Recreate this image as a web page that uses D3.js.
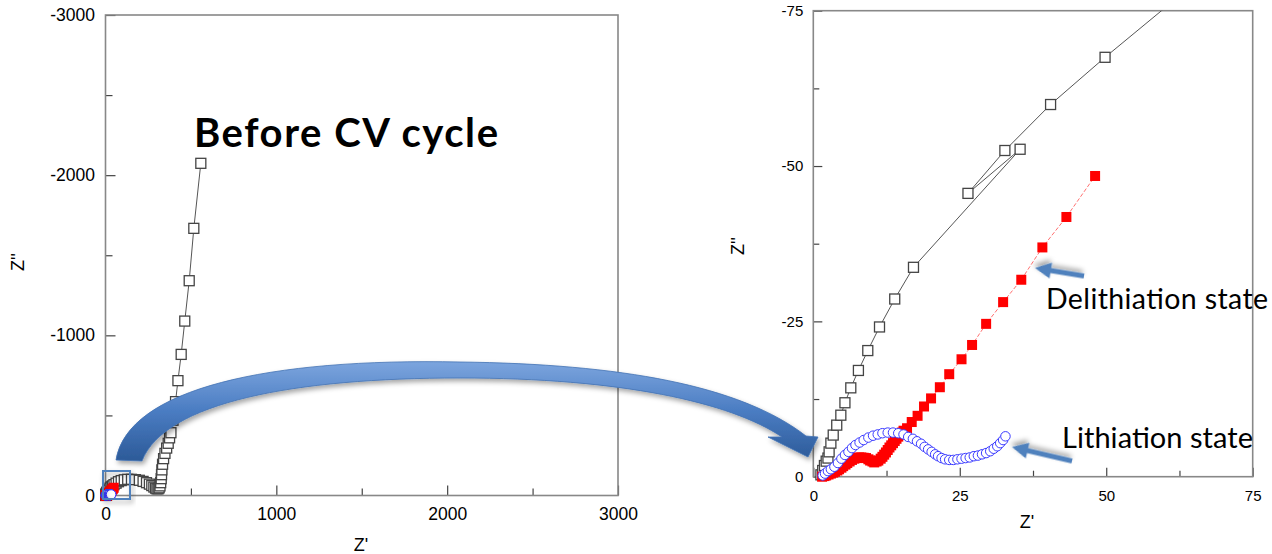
<!DOCTYPE html>
<html><head><meta charset="utf-8">
<script src="https://cdn.jsdelivr.net/npm/d3@7"></script>
<style>html,body{margin:0;padding:0;background:#fff;overflow:hidden}</style>
</head><body>
<svg id="c" width="1272" height="554"></svg>
<script>
// ---------- DATA (Z' in ohm, Z'' in ohm; Z'' negative) ----------
const blackZre = [1.3,1.6,1.9,2.2,2.5,2.7,3.0,3.4,4.0,4.7,5.4,6.4,7.7,9.3,11.3,13.9,17.1,35.3,26.4,32.7,40.5,49.8,62,76,92,110,130,152,175,198,220,240,257,271,283,293,301,308,314,319,323,326,328,330,334,340,348,358,367,375,383,395,410,424,443,464,490,517,558];
const blackZim = [-0.3,-1.0,-1.8,-2.5,-3.0,-4.0,-5.4,-6.7,-8.3,-9.9,-11.9,-14.3,-17.1,-20.3,-24.1,-28.6,-33.7,-52.7,-45.6,-52.5,-59.9,-67.5,-77,-86,-93,-98,-101,-101,-99,-95,-88,-80,-71,-62,-53,-46,-42,-42,-48,-60,-80,-105,-130,-160,-195,-230,-263,-296,-326,-360,-392,-470,-586,-717,-881,-1089,-1341,-1668,-2074];

const redZre = [1.5,1.9,2.2,2.6,3.0,3.4,3.7,4.1,4.4,4.8,5.1,5.5,5.8,6.2,6.6,7.0,7.4,7.8,8.2,8.6,9.0,9.4,9.7,10.1,10.4,10.8,11.1,11.5,11.8,12.1,12.4,12.7,13.0,13.3,13.6,13.9,14.2,14.5,14.8,15.1,15.4,16.0,16.8,17.8,18.9,20.1,21.6,23.2,25.3,27.1,29.5,32.4,35.5,39.1,43.2,48.1];
const redZim = [0.0,-0.1,-0.2,-0.35,-0.5,-0.65,-0.8,-1.0,-1.2,-1.45,-1.7,-1.95,-2.2,-2.45,-2.7,-2.9,-3.0,-3.1,-3.1,-3.05,-3.0,-2.8,-2.6,-2.45,-2.3,-2.45,-2.6,-2.9,-3.2,-3.55,-3.9,-4.3,-4.7,-5.05,-5.4,-5.75,-6.1,-6.45,-6.8,-7.1,-7.4,-7.8,-8.8,-9.8,-11.3,-12.6,-14.4,-16.5,-18.9,-21.2,-24.6,-28.1,-31.7,-36.9,-41.8,-48.4];

const blueZre = [1.6,2.0,2.5,3.0,3.6,4.2,4.8,5.4,6.0,6.6,7.2,7.9,8.6,9.4,10.2,11.0,11.8,12.7,13.6,14.5,15.4,16.2,17.0,17.7,18.4,19.0,19.6,20.2,20.8,21.3,21.9,22.5,23.2,23.9,24.6,25.3,26.0,26.7,27.4,28.1,28.8,29.5,30.2,30.8,31.4,31.9,32.4,32.8];
const blueZim = [-0.2,-0.5,-0.9,-1.2,-1.6,-2.2,-2.9,-3.5,-4.0,-4.6,-5.1,-5.5,-5.9,-6.3,-6.6,-6.8,-7.0,-7.1,-7.1,-7.0,-6.8,-6.4,-6.1,-5.7,-5.3,-4.8,-4.4,-4.0,-3.6,-3.3,-3.0,-2.8,-2.7,-2.7,-2.8,-2.9,-3.0,-3.1,-3.3,-3.4,-3.6,-3.8,-4.1,-4.5,-4.9,-5.4,-5.9,-6.5];

const leftXTicks = [0,1000,2000,3000];
const leftXMinor = [500,1500,2500];
const leftYTicks = [0,-1000,-2000,-3000];
const leftYMinor = [-500,-1500,-2500];
const rightXTicks = [0,25,50,75];
const rightXMinor = [12.5,37.5,62.5];
const rightYTicks = [0,-25,-50,-75];
const rightYMinor = [-12.5,-37.5,-62.5];

const titleText = "Before CV cycle";
const delithText = "Delithiation state";
const lithText = "Lithiation state";
const xTitle = "Z'";
const yTitle = "Z''";

// ---------- BUILD ----------
const zip = (a,b) => a.map((v,i)=>({x:v,y:b[i]}));
const series = [
  {name:"before", pts:zip(blackZre,blackZim), shape:"square", size:10, fill:"#fff", stroke:"#444", line:"#555", dash:null},
  {name:"delith", pts:zip(redZre,redZim), shape:"square", size:10, fill:"#ff0000", stroke:"none", line:"#ff7070", dash:"4,2"},
  {name:"lith", pts:zip(blueZre,blueZim), shape:"circle", size:9.5, fill:"#fff", stroke:"#3a3aff", line:"#6f6fff", dash:null}
];

const svg = d3.select("#c");
const defs = svg.append("defs");
const grad = defs.append("linearGradient").attr("id","arrowGrad").attr("x1",0).attr("y1",0).attr("x2",0).attr("y2",1);
grad.append("stop").attr("offset","0%").attr("stop-color","#7ca5de");
grad.append("stop").attr("offset","50%").attr("stop-color","#4a7cc2");
grad.append("stop").attr("offset","100%").attr("stop-color","#2c5a98");
const sh = defs.append("filter").attr("id","shadow").attr("x","-20%").attr("y","-20%").attr("width","140%").attr("height","160%");
sh.append("feDropShadow").attr("dx",2).attr("dy",3).attr("stdDeviation",2.5).attr("flood-color","#000").attr("flood-opacity",0.35);

const panels = [
  {id:"L", x0:105.5, x1:618, yb:495.5, yt:15, xd:[0,3000], yd:[0,-3000],
   xt:leftXTicks, xm:leftXMinor, yt_:leftYTicks, ym:leftYMinor, fs:17.5, maj:10, min:7, xpad:12, ypad:10.5,
   xTitleX:361, xTitleY:551, yTitleX:24, yTitleY:262},
  {id:"R", x0:813.3, x1:1252.7, yb:476.7, yt:10.7, xd:[0,75], yd:[0,-75],
   xt:rightXTicks, xm:rightXMinor, yt_:rightYTicks, ym:rightYMinor, fs:15, maj:9, min:6, xpad:13.3, ypad:10,
   xTitleX:1027, xTitleY:528, yTitleX:744, yTitleY:246}
];

const fmt = d => String(d);

panels.forEach(p => {
  const x = d3.scaleLinear().domain(p.xd).range([p.x0,p.x1]);
  const y = d3.scaleLinear().domain(p.yd).range([p.yb,p.yt]);
  const g = svg.append("g");

  // clip only the top/right edges (markers at origin spill over the axes like in the source)
  defs.append("clipPath").attr("id","clip"+p.id).append("rect")
    .attr("x",p.x0-15).attr("y",p.yt).attr("width",p.x1-p.x0+15).attr("height",p.yb-p.yt+15);

  // axes
  const axX = g.append("g").attr("transform",`translate(0,${p.yb})`);
  axX.append("g").call(d3.axisBottom(x).tickValues(p.xm).tickSize(-p.min).tickFormat(""));
  axX.append("g").call(d3.axisBottom(x).tickValues(p.xt).tickSize(-p.maj).tickPadding(p.xpad).tickFormat(fmt));
  const axY = g.append("g").attr("transform",`translate(${p.x0},0)`);
  axY.append("g").call(d3.axisLeft(y).tickValues(p.ym).tickSize(-p.min).tickFormat(""));
  axY.append("g").call(d3.axisLeft(y).tickValues(p.yt_).tickSize(-p.maj).tickPadding(p.ypad).tickFormat(fmt));
  g.selectAll(".domain").remove();
  g.selectAll(".tick line").attr("stroke","#444").attr("stroke-width",1.2);
  g.selectAll(".tick text").attr("font-family","'Liberation Sans', Arial, sans-serif").attr("font-size",p.fs).attr("fill","#000");

  // frame
  g.append("rect").attr("x",p.x0).attr("y",p.yt).attr("width",p.x1-p.x0).attr("height",p.yb-p.yt)
    .attr("fill","none").attr("stroke","#888").attr("stroke-width",1.6);

  // titles
  g.append("text").attr("x",p.xTitleX).attr("y",p.xTitleY).attr("text-anchor","middle")
    .attr("font-family","'Liberation Sans', Arial, sans-serif").attr("font-size",18).text(xTitle);
  g.append("text").attr("transform",`translate(${p.yTitleX},${p.yTitleY}) rotate(-90)`).attr("text-anchor","middle")
    .attr("font-family","'Liberation Sans', Arial, sans-serif").attr("font-size",18).text(yTitle);

  // data
  const dg = g.append("g").attr("clip-path",`url(#clip${p.id})`);
  const line = d3.line().x(d=>x(d.x)).y(d=>y(d.y));
  series.forEach(s => {
    dg.append("path").attr("d",line(s.pts)).attr("fill","none").attr("stroke",s.line)
      .attr("stroke-width",1).attr("stroke-dasharray",s.dash);
    if (s.shape==="square") {
      dg.selectAll(null).data(s.pts).join("rect")
        .attr("x",d=>x(d.x)-s.size/2).attr("y",d=>y(d.y)-s.size/2)
        .attr("width",s.size).attr("height",s.size)
        .attr("fill",s.fill).attr("stroke",s.stroke).attr("stroke-width",1.3);
    } else {
      dg.selectAll(null).data(s.pts).join("circle")
        .attr("cx",d=>x(d.x)).attr("cy",d=>y(d.y)).attr("r",s.size/2)
        .attr("fill",s.fill).attr("stroke",s.stroke).attr("stroke-width",1);
    }
  });
});

// zoom box on left panel
svg.append("rect").attr("x",103).attr("y",471).attr("width",27).attr("height",28)
  .attr("fill","none").attr("stroke","#4f81bd").attr("stroke-width",2).attr("filter","url(#shadow)");

// big curved arrow
const bigArrow = "M116,460 C128,388 270,358 460,362 C620,364 740,385 806,436 L818,437 L808,457 L768,437 L782,437 C730,402 620,378 460,378 C295,378 165,402 142,461 Z";
svg.append("path").attr("d",bigArrow).attr("fill","url(#arrowGrad)").attr("stroke","#4272b4").attr("stroke-width",0.8)
  .attr("filter","url(#shadow)");

// small straight arrows
function smallArrow(x1,y1,x2,y2){
  const dx=x2-x1, dy=y2-y1, L=Math.hypot(dx,dy), a=Math.atan2(dy,dx)*180/Math.PI;
  const hl=16, sw=2.6, hw=8;
  const d=`M0,${-sw} L${L-hl},${-sw} L${L-hl},${-hw} L${L},0 L${L-hl},${hw} L${L-hl},${sw} L0,${sw} Z`;
  svg.append("path").attr("d",d).attr("transform",`translate(${x1},${y1}) rotate(${a})`)
    .attr("fill","#4f81bd").attr("filter","url(#shadow)");
}
smallArrow(1084,276,1035,268);
smallArrow(1072,461,1012,447);

// annotation texts
svg.append("text").attr("x",194).attr("y",147).attr("font-family","Lato, 'Open Sans', sans-serif")
  .attr("font-weight","bold").attr("font-size",40).attr("textLength",304).attr("lengthAdjust","spacing").text(titleText);
svg.append("text").attr("x",1046).attr("y",309).attr("font-family","Lato, 'Open Sans', sans-serif")
  .attr("font-size",28.5).attr("textLength",222).attr("lengthAdjust","spacing").text(delithText);
svg.append("text").attr("x",1062).attr("y",448).attr("font-family","Lato, 'Open Sans', sans-serif")
  .attr("font-size",29).attr("textLength",191).attr("lengthAdjust","spacing").text(lithText);
</script>
</body></html>
